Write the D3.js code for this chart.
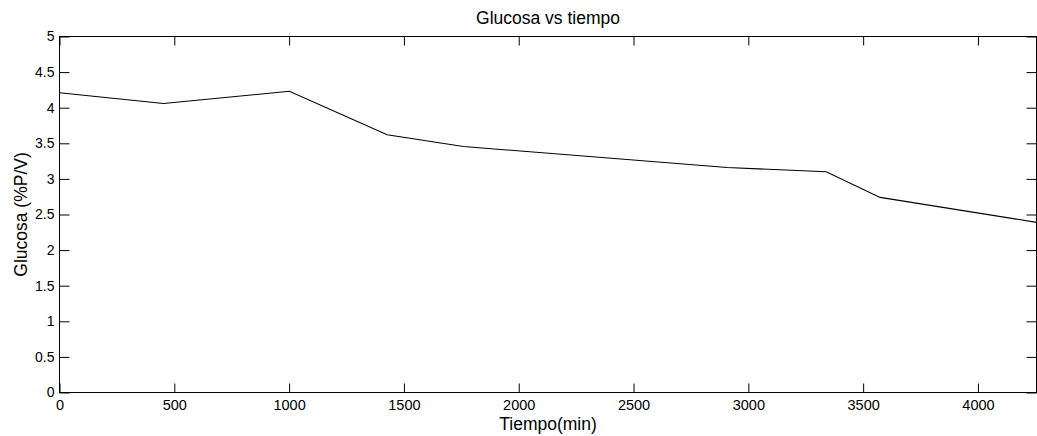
<!DOCTYPE html>
<html>
<head>
<meta charset="utf-8">
<script src="https://cdn.jsdelivr.net/npm/d3@7"></script>
<style>
body { margin: 0; background: #fff; }
svg text { font-family: "Liberation Sans", Arial, sans-serif; fill: #000; }
.axis path { display: none; }
.axis line { stroke: #000; stroke-width: 1; }
</style>
</head>
<body>
<div id="chart"></div>
<script>
var width = 1037, height = 436;

// data
var tiempo  = [0, 453, 1001, 1427, 1759, 2908, 3339, 3574, 4255];
var glucosa = [4.21, 4.06, 4.23, 3.62, 3.455, 3.16, 3.10, 2.74, 2.39];
var xTicks = [0, 500, 1000, 1500, 2000, 2500, 3000, 3500, 4000];
var yTicks = [0, 0.5, 1, 1.5, 2, 2.5, 3, 3.5, 4, 4.5, 5];

var pLeft = 59.5, pRight = 1036.5, pTop = 36.5, pBottom = 392.5;

var svg = d3.select("#chart").append("svg")
	.attr("width", width)
	.attr("height", height);

var x = d3.scaleLinear().domain([0, 4255]).range([pLeft, pRight]);
var y = d3.scaleLinear().domain([0, 5]).range([pBottom, pTop]);

// ticks on all four sides, pointing inward
svg.append("g").attr("class", "axis")
	.attr("transform", "translate(0," + pBottom + ")")
	.call(d3.axisBottom(x).tickValues(xTicks).tickSizeInner(-9).tickSizeOuter(0).tickFormat(d3.format("d")))
	.selectAll("text").attr("font-size", 14.5).attr("dy", "0.72em").attr("y", 7);

svg.append("g").attr("class", "axis")
	.attr("transform", "translate(0," + pTop + ")")
	.call(d3.axisTop(x).tickValues(xTicks).tickSizeInner(-9).tickSizeOuter(0).tickFormat(""));

svg.append("g").attr("class", "axis")
	.attr("transform", "translate(" + pLeft + ",0)")
	.call(d3.axisLeft(y).tickValues(yTicks).tickSizeInner(-10).tickSizeOuter(0).tickFormat(d3.format("")))
	.selectAll("text").attr("font-size", 14).attr("x", -5);

svg.append("g").attr("class", "axis")
	.attr("transform", "translate(" + pRight + ",0)")
	.call(d3.axisRight(y).tickValues(yTicks).tickSizeInner(-10).tickSizeOuter(0).tickFormat(""));

// box
svg.append("rect")
	.attr("x", pLeft).attr("y", pTop)
	.attr("width", pRight - pLeft).attr("height", pBottom - pTop)
	.attr("fill", "none").attr("stroke", "#000").attr("stroke-width", 1);

var line = d3.line()
	.x(function(d, i){ return x(tiempo[i]); })
	.y(function(d){ return y(d); });

svg.append("path")
	.datum(glucosa)
	.attr("d", line)
	.attr("fill", "none")
	.attr("stroke", "#000")
	.attr("stroke-width", 1.1);

svg.append("text")
	.attr("x", (pLeft + pRight) / 2).attr("y", 24)
	.attr("text-anchor", "middle").attr("font-size", 17.5)
	.text("Glucosa vs tiempo");

svg.append("text")
	.attr("x", (pLeft + pRight) / 2).attr("y", 430)
	.attr("text-anchor", "middle").attr("font-size", 17.5)
	.text("Tiempo(min)");

svg.append("text")
	.attr("transform", "translate(27," + ((pTop + pBottom) / 2) + ") rotate(-90)")
	.attr("text-anchor", "middle").attr("font-size", 17.5)
	.text("Glucosa (%P/V)");
</script>
</body>
</html>
